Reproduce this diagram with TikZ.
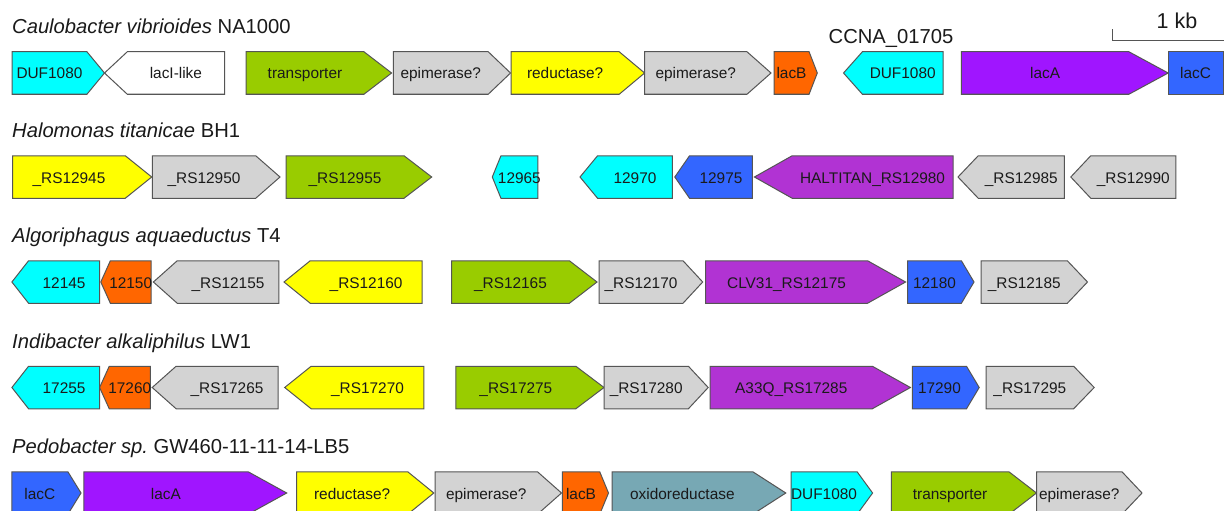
\documentclass[tikz,border=0pt]{standalone}
\usepackage{fontspec}
\setmainfont{Liberation Sans}
\frenchspacing
\definecolor{gcyan}{HTML}{00FFFF}
\definecolor{ggreen}{HTML}{99CC00}
\definecolor{ggray}{HTML}{D3D3D3}
\definecolor{gyellow}{HTML}{FFFF00}
\definecolor{gorange}{HTML}{FF6600}
\definecolor{gviolet}{HTML}{A015FF}
\definecolor{gorchid}{HTML}{B133D3}
\definecolor{gblue}{HTML}{3366FF}
\definecolor{gteal}{HTML}{77A8B4}
\definecolor{gborder}{HTML}{555555}
\definecolor{gtext}{HTML}{1A1A1A}
\tikzset{
  genebox/.style={draw=gborder, line width=1pt, line join=miter},
  genelabel/.style={anchor=base, inner sep=0pt, font=\fontsize{15.4}{18}\selectfont, text=gtext},
  titletext/.style={anchor=base west, inner sep=0pt, font=\fontsize{20.2}{24}\selectfont, text=gtext},
  bigtext/.style={anchor=base, inner sep=0pt, font=\fontsize{20.2}{24}\selectfont, text=gtext},
  scalebar/.style={draw=gborder, line width=1.3pt},
}
% right-pointing gene: name, x1, x2 (tip), y, colour, label
\newcommand\gr[6]{%
  \pgfmathsetmacro\ghd{0.19*(#3-#2)}%
  \pgfmathsetmacro\gbx{#3-\ghd}%
  \pgfmathsetmacro\gtop{#4-21.25}%
  \pgfmathsetmacro\gbot{#4+21.25}%
  \pgfmathsetmacro\gcx{(#2+\gbx)/2}%
  \pgfmathsetmacro\gby{#4+6}%
  \draw[genebox,fill=#5] (#2,\gtop) -- (\gbx,\gtop) -- (#3,#4) -- (\gbx,\gbot) -- (#2,\gbot) -- cycle;
  \node[genelabel] (#1) at (\gcx,\gby) {#6};
}
% left-pointing gene: name, x1 (tip), x2, y, colour, label
\newcommand\gl[6]{%
  \pgfmathsetmacro\ghd{0.19*(#3-#2)}%
  \pgfmathsetmacro\gbx{#2+\ghd}%
  \pgfmathsetmacro\gtop{#4-21.25}%
  \pgfmathsetmacro\gbot{#4+21.25}%
  \pgfmathsetmacro\gcx{(#3+\gbx)/2}%
  \pgfmathsetmacro\gby{#4+6}%
  \draw[genebox,fill=#5] (#3,\gtop) -- (\gbx,\gtop) -- (#2,#4) -- (\gbx,\gbot) -- (#3,\gbot) -- cycle;
  \node[genelabel] (#1) at (\gcx,\gby) {#6};
}
\begin{document}
\begin{tikzpicture}[x=1pt,y=-1pt]
\useasboundingbox (0,0) rectangle (1224,511);
\clip (0,0) rectangle (1224,511);
\fill[white] (0,0) rectangle (1224,511);

% ---------- Row 1 ----------
\node[titletext] (t1) at (12,33.5) {\textit{Caulobacter vibrioides} NA1000};
\gr{a1}{12}{104.5}{73}{gcyan}{DUF1080}
\gl{a2}{104.5}{224.5}{73}{white}{lacI-like}
\gr{a3}{246}{391.6}{73}{ggreen}{transporter}
\gr{a4}{393.3}{510.5}{73}{ggray}{epimerase?}
\gr{a5}{511}{644.6}{73}{gyellow}{reductase?}
\gr{a6}{644.6}{771}{73}{ggray}{epimerase?}
\gr{a7}{774}{817.3}{73}{gorange}{lacB}
\gl{a8}{843.5}{943}{73}{gcyan}{DUF1080}
\gr{a9}{961.3}{1168.2}{73}{gviolet}{lacA}
\draw[genebox,fill=gblue] (1168.2,51.75) rectangle (1223,94.25);
\node[genelabel] (a10) at (1195.6,79) {lacC};
\node[bigtext] (ccna) at (891,43.3) {CCNA\_01705};
\node[bigtext, font=\fontsize{21.5}{24}\selectfont] (kb) at (1177,28.3) {1 kb};
\coordinate (sb1) at (1112.5,29.3);
\coordinate (sb2) at (1112.5,40.7);
\coordinate (sb3) at (1226,40.7);
\draw[scalebar] (sb1) -- (sb2) -- (sb3);

% ---------- Row 2 ----------
\node[titletext] (t2) at (12,137.5) {\textit{Halomonas titanicae} BH1};
\gr{b1}{12.7}{151.7}{177}{gyellow}{\_RS12945}
\gr{b2}{152.3}{280}{177}{ggray}{\_RS12950}
\gr{b3}{286}{431.7}{177}{ggreen}{\_RS12955}
\gl{b4}{492.3}{537.8}{177}{gcyan}{12965}
\gl{b5}{580}{672.4}{177}{gcyan}{12970}
\gl{b6}{674.8}{752.4}{177}{gblue}{12975}
\gl{b7}{754.4}{953}{177}{gorchid}{HALTITAN\_RS12980}
\gl{b8}{958}{1064.4}{177}{ggray}{\_RS12985}
\gl{b9}{1070.8}{1175.8}{177}{ggray}{\_RS12990}

% ---------- Row 3 ----------
\node[titletext] (t3) at (12,242.5) {\textit{Algoriphagus aquaeductus} T4};
\gl{c1}{11.9}{99.6}{282}{gcyan}{12145}
\gl{c2}{100.8}{151}{282}{gorange}{12150}
\gl{c3}{153.4}{278.8}{282}{ggray}{\_RS12155}
\gl{c4}{284}{422}{282}{gyellow}{\_RS12160}
\gr{c5}{451.6}{597}{282}{ggreen}{\_RS12165}
\gr{c6}{599}{702.7}{282}{ggray}{\_RS12170}
\gr{c7}{705.5}{905.6}{282}{gorchid}{CLV31\_RS12175}
\gr{c8}{907.6}{974}{282}{gblue}{12180}
\gr{c9}{981.2}{1087.5}{282}{ggray}{\_RS12185}

% ---------- Row 4 ----------
\node[titletext] (t4) at (12,348) {\textit{Indibacter alkaliphilus} LW1};
\gl{d1}{11.9}{99.6}{387.5}{gcyan}{17255}
\gl{d2}{99.6}{150.3}{387.5}{gorange}{17260}
\gl{d3}{152.2}{278}{387.5}{ggray}{\_RS17265}
\gl{d4}{284.7}{423.9}{387.5}{gyellow}{\_RS17270}
\gr{d5}{455.9}{604}{387.5}{ggreen}{\_RS17275}
\gr{d6}{604}{708.2}{387.5}{ggray}{\_RS17280}
\gr{d7}{710.2}{910.4}{387.5}{gorchid}{A33Q\_RS17285}
\gr{d8}{912.4}{979.2}{387.5}{gblue}{17290}
\gr{d9}{986}{1094.2}{387.5}{ggray}{\_RS17295}

% ---------- Row 5 ----------
\node[titletext] (t5) at (12,453.5) {\textit{Pedobacter sp.} GW460-11-11-14-LB5};
\gr{e1}{11.9}{81}{493}{gblue}{lacC}
\gr{e2}{83.8}{286.7}{493}{gviolet}{lacA}
\gr{e3}{296.6}{433.8}{493}{gyellow}{reductase?}
\gr{e4}{435}{561.5}{493}{ggray}{epimerase?}
\gr{e5}{562.3}{608.5}{493}{gorange}{lacB}
\gr{e6}{612}{785.8}{493}{gteal}{oxidoreductase}
\gr{e7}{791}{872.6}{493}{gcyan}{DUF1080}
\gr{e8}{891.3}{1036.5}{493}{ggreen}{transporter}
\gr{e9}{1036.5}{1142}{493}{ggray}{epimerase?}
\end{tikzpicture}
\end{document}
